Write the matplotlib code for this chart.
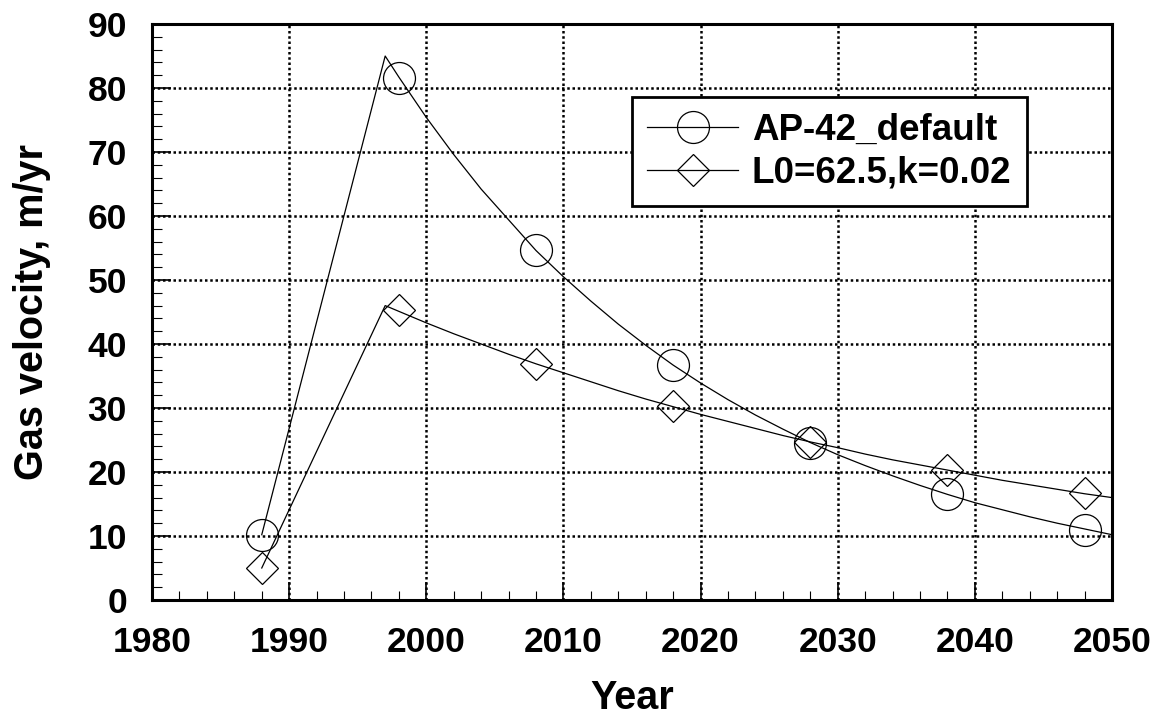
import matplotlib
matplotlib.use("Agg")
import matplotlib.pyplot as plt
from matplotlib.lines import Line2D
from matplotlib.ticker import MultipleLocator

plt.rcParams['font.family'] = ['Liberation Sans', 'DejaVu Sans']
plt.rcParams['font.weight'] = 'bold'

# Fitted curves (line only)
curve_years = [1988, 1997, 1998, 2000, 2002, 2004, 2006, 2008, 2010, 2012, 2014,
               2016, 2018, 2020, 2022, 2024, 2026, 2028, 2030, 2032, 2034, 2036,
               2038, 2040, 2042, 2044, 2046, 2048, 2050]
ap42_curve = [10.2, 85.0, 81.7, 75.4, 69.6, 64.2, 59.4, 54.6, 50.5, 46.7, 43.1,
              39.8, 36.7, 33.9, 31.3, 28.9, 26.7, 24.6, 22.7, 21.0, 19.4, 17.9,
              16.5, 15.2, 14.1, 13.0, 12.0, 11.1, 10.2]
l0_curve = [5.0, 46.0, 45.1, 43.3, 41.6, 40.0, 38.4, 36.9, 35.5, 34.1, 32.7,
            31.4, 30.2, 29.0, 27.9, 26.8, 25.7, 24.7, 23.8, 22.8, 21.9, 21.1,
            20.3, 19.5, 18.7, 18.0, 17.3, 16.6, 16.0]

# Decade sample points (markers only)
marker_years = [1988, 1998, 2008, 2018, 2028, 2038, 2048]
ap42_points = [10.2, 81.6, 54.7, 36.7, 24.6, 16.6, 11.0]
l0_points = [5.0, 45.3, 36.8, 30.3, 24.7, 20.3, 16.7]

labels = ['AP-42_default', 'L0=62.5,k=0.02']

fig = plt.figure(figsize=(11.58, 7.17), dpi=100)
fig.subplots_adjust(left=0.1313, right=0.9603, top=0.9665, bottom=0.1632)
ax = fig.add_subplot(111)

lw = 0.9
ax.plot(curve_years, ap42_curve, color='k', linewidth=lw, zorder=3)
ax.plot(curve_years, l0_curve, color='k', linewidth=lw, zorder=3)
ax.plot(marker_years, ap42_points, linestyle='none', marker='o', markersize=23,
        markerfacecolor='none', markeredgecolor='k', markeredgewidth=lw, zorder=4)
ax.plot(marker_years, l0_points, linestyle='none', marker='D', markersize=16,
        markerfacecolor='none', markeredgecolor='k', markeredgewidth=lw, zorder=4)

ax.set_xlim(1980, 2050)
ax.set_ylim(0, 90)
ax.xaxis.set_major_locator(MultipleLocator(10))
ax.xaxis.set_minor_locator(MultipleLocator(2))
ax.yaxis.set_major_locator(MultipleLocator(10))
ax.yaxis.set_minor_locator(MultipleLocator(2))

ax.grid(which='major', color='k', linestyle=(0, (1, 1.1)), linewidth=1.8, zorder=1)
ax.tick_params(axis='both', which='both', direction='in', top=False, right=False,
               labelsize=25.5, color='k')
ax.tick_params(axis='x', which='major', length=13, width=1.2, pad=19)
ax.tick_params(axis='x', which='minor', length=6.5, width=0.8)
ax.tick_params(axis='y', which='major', length=14, width=1.2, pad=18)
ax.tick_params(axis='y', which='minor', length=7, width=0.8)
for lab in ax.get_xticklabels() + ax.get_yticklabels():
    lab.set_fontweight('bold')

for sp in ax.spines.values():
    sp.set_linewidth(2.2)
    sp.set_zorder(5)

ax.set_xlabel('Year', fontsize=28.5, fontweight='bold', labelpad=14)
ax.set_ylabel('Gas velocity, m/yr', fontsize=28.5, fontweight='bold', labelpad=26)

handles = [
    Line2D([], [], color='k', linewidth=lw, marker='o', markersize=23,
           markerfacecolor='none', markeredgecolor='k', markeredgewidth=lw),
    Line2D([], [], color='k', linewidth=lw, marker='D', markersize=16,
           markerfacecolor='none', markeredgecolor='k', markeredgewidth=lw),
]
leg = ax.legend(handles, labels, loc='upper left', bbox_to_anchor=(0.5, 0.873),
                borderaxespad=0, prop={'weight': 'bold', 'size': 26.5},
                frameon=True, fancybox=False, edgecolor='k', framealpha=1,
                handlelength=2.45, handletextpad=0.38, borderpad=0.42,
                labelspacing=0.22)
leg.get_frame().set_linewidth(2.0)
leg.set_zorder(6)

fig.savefig('out.png', dpi=100)
